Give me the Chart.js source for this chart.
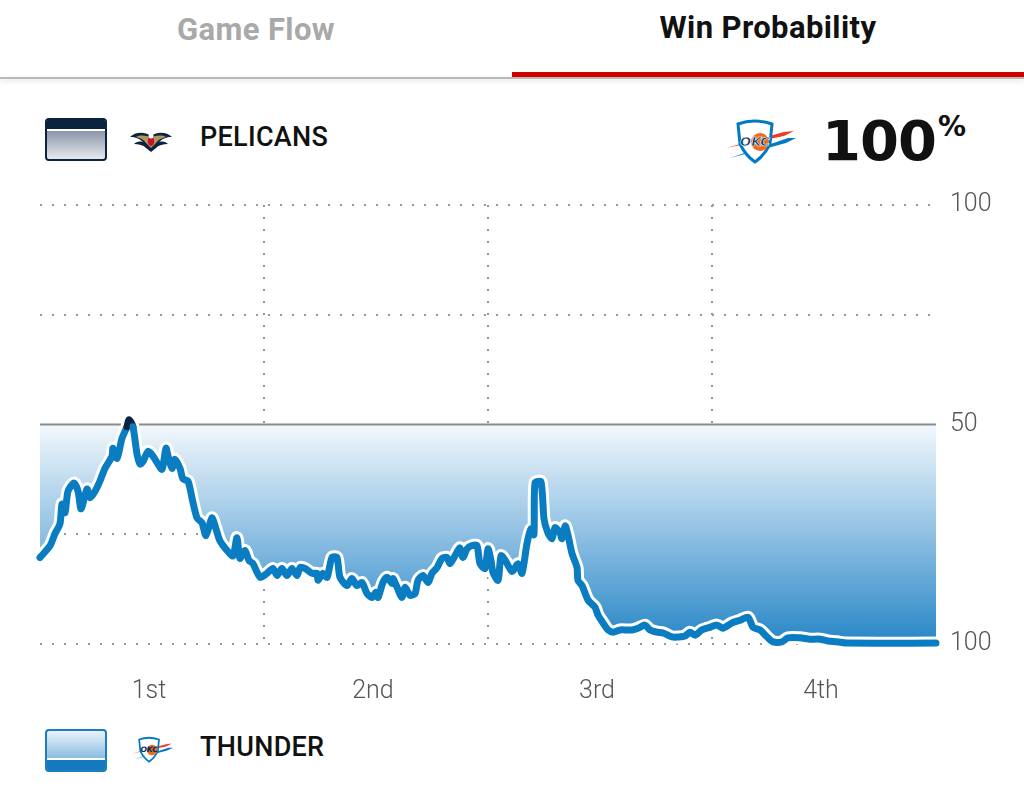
<!DOCTYPE html>
<html>
<head>
<meta charset="utf-8">
<script src="https://cdn.jsdelivr.net/npm/chart.js@4.4.1/dist/chart.umd.min.js"></script>
<style>
  body { margin: 0; width: 1024px; height: 800px; background: #fff; position: relative; overflow: hidden; font-family: Roboto, "Noto Sans", sans-serif; }
  .tab { position: absolute; top: 0; width: 512px; height: 76px; text-align: center; font-weight: 700; font-size: 31px; letter-spacing: 0.4px; }
  .tab-flow { left: 0; color: #a9a9a9; line-height: 60px; }
  .tab-wp { left: 512px; color: #111; line-height: 56px; }
  .tab-line { position: absolute; left: 0; top: 77px; width: 1024px; height: 2px; background: #b9b9b9; box-shadow: 0 2px 5px rgba(0,0,0,0.15); }
  .tab-red { position: absolute; left: 512px; top: 72px; width: 512px; height: 5px; background: #d00000; }
  .swatch { position: absolute; left: 45px; width: 58px; height: 39px; border-radius: 4px; overflow: hidden; }
  .swatch-nop { top: 118px; border: 2px solid #0c2340; background: linear-gradient(#66748e, #e6e9ef); }
  .swatch-nop::before { content: ""; position: absolute; left: 0; top: 0; width: 100%; height: 9px; background: #0c2340; border-bottom: 2px solid #fff; }
  .swatch-okc { top: 729px; border: 2px solid #1a7fc0; background: linear-gradient(#eaf3fa, #5fa6d6); }
  .swatch-okc::after { content: ""; position: absolute; left: 0; bottom: 0; width: 100%; height: 10px; background: #1479be; border-top: 2px solid #fff; }
  .team { position: absolute; left: 200px; font-size: 27px; font-weight: 500; color: #111; letter-spacing: 0.3px; }
  .logo { position: absolute; }
  .big-pct { position: absolute; left: 822px; top: 108px; font-family: "DejaVu Sans", sans-serif; font-weight: 700; font-size: 56px; color: #111; letter-spacing: -1px; }
  .big-pct sup { font-size: 28px; position: relative; top: -4px; margin-left: 2px; letter-spacing: 0; }
  .chart-box { position: absolute; left: 0; top: 176px; width: 1024px; height: 534px; }
</style>
</head>
<body>
<div class="tab tab-flow">Game Flow</div>
<div class="tab tab-wp">Win Probability</div>
<div class="tab-line"></div>
<div class="tab-red"></div>

<div class="swatch swatch-nop"></div>
<svg class="logo" style="left:129px;top:128px" width="44" height="26" viewBox="0 0 44 26">
  <path d="M22 8 C15 3 6 4 1 9 C7 9 11 11 14 14 C10 13 7 14 5 16 C10 16 14 17 17 20 L22 24 L27 20 C30 17 34 16 39 16 C37 14 34 13 30 14 C33 11 37 9 43 9 C38 4 29 3 22 8 Z" fill="#0c2340"/>
  <path d="M22 10 C17 7 11 7 7 9 C12 10 15 12 17 15 L22 20 L27 15 C29 12 32 10 37 9 C33 7 27 7 22 10 Z" fill="#b4975a"/>
  <ellipse cx="22" cy="13" rx="3.2" ry="5" fill="#c8102e"/>
  <circle cx="22" cy="8" r="2.5" fill="#fff"/>
</svg>
<div class="team" style="top:121px">PELICANS</div>

<svg class="logo" style="left:724px;top:118px" width="72" height="48" viewBox="0 0 72 48">
  <path d="M2 30 L60 14 L70 13 L60 18 Z" fill="#ef3b24"/>
  <path d="M6 40 L64 20 L72 20 L62 25 Z" fill="#007ac1"/>
  <path d="M14 6 Q30 0 48 6 L46 26 Q40 38 31 44 Q22 38 16 26 Z" fill="#fff" stroke="#007ac1" stroke-width="3"/>
  <circle cx="36" cy="24" r="9" fill="#ef6c1a"/>
  <text x="31" y="28" text-anchor="middle" font-family="DejaVu Sans" font-weight="700" font-style="italic" font-size="13" fill="#002d62" stroke="#fff" stroke-width="0.6">OKC</text>
</svg>
<div class="big-pct">100<sup>%</sup></div>

<div class="chart-box"><canvas id="wp-chart"></canvas></div>

<div class="swatch swatch-okc"></div>
<svg class="logo" style="left:131px;top:736px" width="42" height="28" viewBox="0 0 72 48">
  <path d="M2 30 L60 14 L70 13 L60 18 Z" fill="#ef3b24"/>
  <path d="M6 40 L64 20 L72 20 L62 25 Z" fill="#007ac1"/>
  <path d="M14 6 Q30 0 48 6 L46 26 Q40 38 31 44 Q22 38 16 26 Z" fill="#fff" stroke="#007ac1" stroke-width="3"/>
  <circle cx="36" cy="24" r="9" fill="#ef6c1a"/>
  <text x="31" y="28" text-anchor="middle" font-family="DejaVu Sans" font-weight="700" font-style="italic" font-size="13" fill="#002d62">OKC</text>
</svg>
<div class="team" style="top:731px">THUNDER</div>

<script>
// ゲーム経過（分）とペリカンズの勝率（%）: 下端 = サンダー100%
const gameMinutes = [0, 0.54, 0.80, 1.07, 1.18, 1.34, 1.50, 1.82, 2.04, 2.20,
    2.52, 2.68, 2.95, 3.21, 3.48, 3.86, 3.91, 4.13, 4.39, 4.66,
    4.77, 4.98, 5.20, 5.36, 5.52, 5.79, 6.05, 6.32, 6.54, 6.75,
    6.86, 7.07, 7.23, 7.50, 7.66, 7.93, 8.14, 8.41, 8.68, 8.89,
    9.21, 9.38, 9.64, 10.02, 10.34, 10.55, 10.71, 10.98, 11.20, 11.41,
    11.79, 12.16, 12.48, 12.70, 12.96, 13.23, 13.50, 13.77, 13.93, 14.20,
    14.57, 14.84, 14.89, 15.16, 15.38, 15.64, 15.91, 16.07, 16.45, 16.71,
    16.98, 17.25, 17.52, 17.79, 18.00, 18.11, 18.37, 18.59, 18.86, 18.91,
    19.13, 19.39, 19.55, 19.82, 20.09, 20.25, 20.52, 20.79, 21.00, 21.27,
    21.54, 21.80, 21.96, 22.23, 22.50, 22.66, 22.88, 23.14, 23.41, 23.57,
    23.84, 24.00, 24.16, 24.27, 24.54, 24.70, 24.96, 25.29, 25.61, 25.82,
    26.09, 26.30, 26.46, 26.52, 26.84, 27.00, 27.21, 27.43, 27.59, 27.86,
    27.96, 28.13, 28.29, 28.50, 28.77, 28.82, 29.04, 29.36, 29.73, 29.89,
    30.16, 30.43, 30.70, 31.07, 31.45, 31.71, 32.04, 32.41, 32.68, 33.05,
    33.38, 33.86, 34.18, 34.55, 34.82, 35.09, 35.46, 35.89, 36.27, 36.59,
    37.07, 37.50, 37.93, 38.20, 38.57, 38.95, 39.27, 39.75, 40.07, 40.71,
    41.25, 41.79, 42.21, 42.70, 43.23, 48];

const pelicansWinPct = [19.7, 22.4, 25.1, 27.4, 31.9, 29.9, 34.8, 36.7, 34.8, 30.8,
    35.3, 33.3, 34.8, 37.1, 40.0, 42.8, 44.6, 42.3, 46.8, 49.5,
    51.1, 49.5, 43.2, 41.0, 41.6, 43.9, 42.8, 41.0, 39.8, 44.6,
    42.8, 40.0, 42.1, 40.0, 37.6, 37.1, 33.3, 28.7, 27.6, 24.7,
    28.7, 26.9, 23.5, 21.3, 20.1, 24.2, 19.5, 21.3, 19.0, 18.3,
    15.2, 16.1, 17.2, 15.6, 17.2, 15.6, 17.2, 15.6, 17.4, 17.2,
    16.1, 16.1, 14.5, 16.1, 15.2, 19.7, 19.7, 15.2, 13.3, 14.9,
    13.3, 14.0, 11.5, 10.6, 11.8, 10.6, 14.0, 15.2, 13.8, 14.9,
    12.9, 10.6, 12.9, 11.1, 11.5, 14.5, 15.6, 14.0, 16.1, 17.4,
    19.5, 19.7, 18.3, 20.1, 21.9, 19.7, 21.7, 22.4, 22.4, 18.3,
    17.2, 21.7, 19.0, 16.3, 14.5, 20.1, 18.8, 16.5, 18.3, 16.1,
    22.9, 26.2, 24.9, 36.7, 36.9, 28.5, 25.3, 24.0, 26.5, 25.3,
    24.0, 26.9, 24.7, 20.6, 17.4, 14.5, 13.3, 10.0, 8.4, 6.6,
    4.8, 3.2, 2.7, 3.2, 3.2, 3.2, 3.6, 4.3, 3.2, 2.7,
    2.5, 1.6, 1.6, 1.8, 2.7, 2.0, 3.2, 3.8, 4.3, 3.6,
    4.8, 5.4, 6.1, 3.8, 3.2, 1.6, 0.5, 0.5, 1.4, 1.4,
    1.1, 1.1, 0.7, 0.5, 0.2, 0.2];

// 横軸: クォーター
const quarterMid = [6, 18, 30, 42];
const quarterLabels = ['1st', '2nd', '3rd', '4th'];
const quarterBreaks = [12, 24, 36];
const gameLength = 48;

// 縦軸: 上 = ペリカンズ100、中央 = 50、下 = サンダー100
const yTickValues = [100, 50, 0];
const yTickLabels = ['100', '50', '100'];
const evenLine = [0, 48];

const NAVY = '#0c2340';
const BLUE = '#0a7cc2';
const DOT = '#9a9a9a';

const points = gameMinutes.map((m, i) => ({ x: m, y: pelicansWinPct[i] }));

function fillGradient(context) {
    const chart = context.chart;
    const { ctx, chartArea, scales } = chart;
    if (!chartArea || !scales.y) return 'rgba(0,0,0,0)';
    const top = scales.y.getPixelForValue(50);
    const g = ctx.createLinearGradient(0, top, 0, chartArea.bottom);
    g.addColorStop(0, '#f3f8fc');
    g.addColorStop(0.5, '#8fc0e3');
    g.addColorStop(1, '#2686c6');
    return g;
}

const lineCommon = {
    data: points,
    pointRadius: 0,
    tension: 0.25,
    borderJoinStyle: 'round',
    borderCapStyle: 'round',
    clip: false
};

new Chart(document.getElementById('wp-chart'), {
    type: 'line',
    data: {
        datasets: [
            // 塗り（50ライン〜勝率ライン）
            Object.assign({}, lineCommon, {
                order: 4,
                borderWidth: 0,
                borderColor: 'rgba(0,0,0,0)',
                backgroundColor: fillGradient,
                fill: { target: { value: 50 }, above: NAVY }
            }),
            // 50% のライン
            {
                order: 3,
                data: evenLine.map(m => ({ x: m, y: 50 })),
                borderColor: '#8a8a8a',
                borderWidth: 2,
                pointRadius: 0,
                fill: false
            },
            // 白い縁取り
            Object.assign({}, lineCommon, {
                order: 2,
                borderWidth: 13,
                borderColor: '#ffffff',
                fill: false
            }),
            // 勝率ライン
            Object.assign({}, lineCommon, {
                order: 1,
                borderWidth: 7,
                borderColor: BLUE,
                fill: false,
                segment: {
                    borderColor: ctx => (ctx.p0.parsed.y > 50 || ctx.p1.parsed.y > 50) ? NAVY : BLUE
                }
            })
        ]
    },
    options: {
        responsive: true,
        maintainAspectRatio: false,
        animation: false,
        layout: { padding: { left: 40, top: 15, right: 0, bottom: 0 } },
        plugins: {
            legend: { display: false },
            tooltip: { enabled: false },
            title: { display: false }
        },
        scales: {
            x: {
                type: 'linear',
                min: 0,
                max: gameLength,
                afterFit: scale => { scale.height = 66; },
                afterBuildTicks: scale => {
                    scale.ticks = quarterMid.concat(quarterBreaks).sort((a, b) => a - b).map(v => ({ value: v }));
                },
                ticks: {
                    autoSkip: false,
                    maxRotation: 0,
                    padding: 33,
                    labelOffset: -3,
                    color: '#555',
                    font: { family: 'Roboto', size: 25, weight: '300' },
                    callback: v => {
                        const i = quarterMid.indexOf(v);
                        return i >= 0 ? quarterLabels[i] : '';
                    }
                },
                grid: {
                    drawTicks: false,
                    lineWidth: 2,
                    color: ctx => (ctx.tick && quarterBreaks.includes(ctx.tick.value)) ? DOT : 'rgba(0,0,0,0)'
                },
                border: { display: false, dash: [2, 10] }
            },
            y: {
                type: 'linear',
                position: 'right',
                min: 0,
                max: 100,
                afterFit: scale => { scale.width = 88; },
                afterBuildTicks: scale => {
                    scale.ticks = [0, 25, 50, 75, 100].map(v => ({ value: v }));
                },
                ticks: {
                    padding: 14,
                    color: '#555',
                    font: { family: 'Roboto', size: 25, weight: '300' },
                    callback: v => {
                        const i = yTickValues.indexOf(v);
                        return i >= 0 ? yTickLabels[i] : '';
                    }
                },
                grid: {
                    drawTicks: false,
                    lineWidth: 2,
                    color: ctx => (ctx.tick && ctx.tick.value === 50) ? 'rgba(0,0,0,0)' : DOT
                },
                border: { display: false, dash: [2, 10] }
            }
        }
    }
});
</script>
</body>
</html>
